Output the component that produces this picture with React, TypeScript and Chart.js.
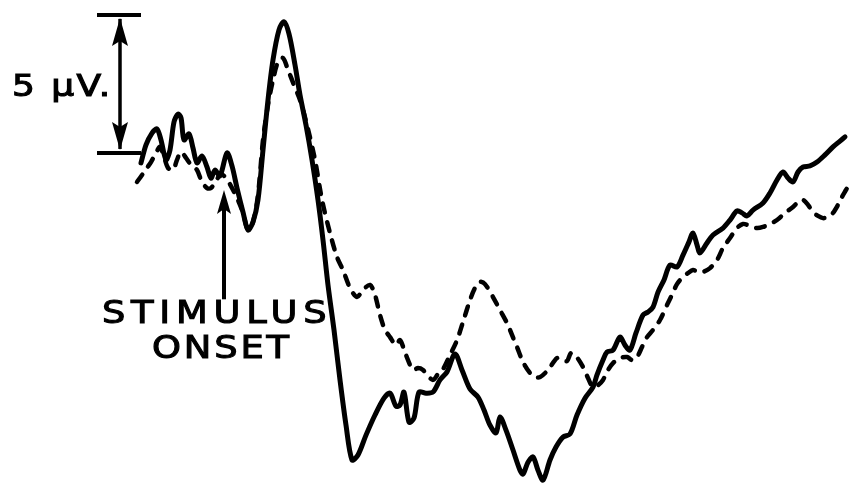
import React, { useEffect, useRef } from "react";
import { Chart, registerables } from "chart.js";

Chart.register(...registerables);

// Time relative to stimulus onset (ms) and amplitude (µV)
const solidTime = [
  -83, -78, -72, -67, -63, -58, -54, -50, -46, -43, -40, -35, -31, -27, -22, -17, -13, -9, -4, 3,
  8, 13, 19, 24, 29, 34, 39, 44, 49, 55, 60, 65, 71, 76, 82, 88, 94, 99, 104, 110,
  116, 122, 128, 134, 142, 151, 160, 166, 172, 176, 180, 185, 190, 195, 202, 209, 216, 223, 231, 238,
  246, 254, 260, 266, 272, 276, 282, 289, 296, 299, 304, 309, 314, 319, 326, 332, 339, 346, 353, 361,
  369, 373, 379, 383, 389, 396, 401, 406, 412, 419, 424, 429, 434, 440, 446, 453, 459, 465, 469, 473,
  476, 483, 489, 499, 506, 513, 518, 523, 529, 539, 546, 553, 559, 564, 569, 574, 579, 586, 593, 601,
  609, 616, 621,
];
const solidUV = [
  -0.36, 0.29, 0.72, 0.87, 0.47, -0.25, 0.11, 1.12, 1.41, 1.27, 0.47, 0.69, 0.18, -0.36, -0.11, -0.51, -0.91, -0.62, -0.83, 0,
  -0.47, -1.27, -2.14, -2.79, -2.5, -1.7, 0.11, 1.92, 3.37, 4.46, 4.75, 4.31, 3.19, 2.1, 1.01, -0.25, -1.7, -3.15, -4.78, -6.41,
  -8.22, -9.86, -11.12, -10.94, -10.22, -9.49, -8.88, -8.7, -9.17, -9.13, -8.66, -9.75, -9.6, -8.66, -8.7, -8.66, -8.22, -7.93, -7.28, -7.86,
  -8.55, -8.84, -9.31, -9.86, -10.14, -9.56, -10.04, -10.76, -11.49, -11.63, -11.2, -11.01, -11.49, -11.85, -11.12, -10.65, -10.29, -10.18, -9.49, -8.88,
  -8.48, -8.04, -7.5, -7.21, -7.14, -6.67, -6.96, -7.14, -6.52, -5.87, -5.76, -5.58, -5.04, -4.6, -4.06, -4.13, -3.7, -3.22, -2.9, -3.33,
  -3.62, -3.26, -2.97, -2.72, -2.43, -2.1, -2.17, -2.28, -2.07, -1.81, -1.45, -0.98, -0.69, -0.91, -1.05, -0.69, -0.51, -0.47, -0.33, -0.07,
  0.22, 0.43, 0.58,
];

const dashedTime = [
  -87, -82, -77, -73, -68, -64, -60, -56, -51, -47, -43, -38, -33, -27, -22, -17, -13, -8, -3, 2,
  7, 13, 19, 24, 29, 34, 39, 44, 49, 54, 59, 64, 70, 76, 83, 91, 98, 106, 113, 119,
  126, 133, 139, 146, 151, 156, 161, 166, 172, 176, 182, 189, 194, 199, 204, 209, 214, 219, 226, 233,
  239, 246, 251, 256, 261, 269, 276, 283, 288, 293, 299, 306, 311, 316, 324, 333, 338, 343, 347, 352,
  359, 364, 369, 374, 379, 384, 389, 396, 403, 408, 413, 418, 423, 429, 436, 443, 448, 453, 459, 464,
  469, 474, 479, 486, 493, 499, 506, 513, 519, 526, 533, 539, 546, 553, 561, 569, 574, 579, 584, 589,
  594, 599, 604, 609, 614, 618, 622, 626,
];
const dashedUV = [
  -1.05, -0.8, -0.54, -0.33, 0, 0.22, -0.14, -0.54, -0.62, -0.25, 0.04, -0.18, -0.43, -0.62, -1.05, -1.27, -1.27, -1.01, -0.76, -0.91,
  -1.2, -1.63, -2.17, -2.79, -2.5, -1.52, 0.47, 1.74, 2.64, 3.3, 3.44, 3.01, 2.46, 1.92, 1.01, -0.25, -1.7, -2.9, -3.77, -4.24,
  -4.89, -5.22, -4.96, -4.78, -5.14, -5.87, -6.41, -6.67, -6.96, -6.78, -7.32, -7.86, -7.79, -7.86, -8.08, -8.22, -8.01, -7.83, -7.32, -6.78,
  -6.12, -5.33, -4.89, -4.67, -4.75, -5.22, -5.69, -6.16, -6.59, -7.03, -7.57, -7.97, -8.12, -8.12, -7.86, -7.43, -7.46, -7.54, -7.25, -7.36,
  -7.75, -8.15, -8.48, -8.41, -8.22, -7.86, -7.61, -7.43, -7.39, -7.5, -7.39, -7.03, -6.67, -6.41, -6.05, -5.51, -5.14, -4.75, -4.49, -4.35,
  -4.24, -4.31, -4.31, -4.17, -3.88, -3.44, -3.08, -2.72, -2.57, -2.64, -2.72, -2.68, -2.57, -2.43, -2.17, -1.96, -1.78, -1.7, -1.88, -2.14,
  -2.28, -2.36, -2.32, -2.17, -1.88, -1.59, -1.34, -1.09,
];

// Calibration bar: 5 µV, and the stimulus-onset marker at t = 0
const calibrationUV = [0, 5];
const calibrationTime = -104;
const onsetTime = 0;
const onsetArrowUV = [-5.3, -1.34];

const X_MIN = -224;
const X_MAX = 627;
const Y_MIN = -11.99;
const Y_MAX = 5.54;

function toPoints(xs: number[], ys: number[]) {
  return xs.map((x, i) => ({ x, y: ys[i] }));
}

function arrowHead(ctx: CanvasRenderingContext2D, x: number, tipY: number, dir: number, len: number, half: number) {
  ctx.beginPath();
  ctx.moveTo(x, tipY);
  ctx.lineTo(x - half, tipY + dir * len);
  ctx.lineTo(x, tipY + dir * (len - 5));
  ctx.lineTo(x + half, tipY + dir * len);
  ctx.closePath();
  ctx.fill();
}

const markerPlugin = {
  id: "markers",
  afterDatasetsDraw(chart: any) {
    const ctx: CanvasRenderingContext2D = chart.ctx;
    const xs = chart.scales.x;
    const ys = chart.scales.y;
    ctx.save();
    ctx.strokeStyle = "#000";
    ctx.fillStyle = "#000";
    ctx.lineCap = "butt";

    // calibration bar
    const cx = xs.getPixelForValue(calibrationTime);
    const yBottom = ys.getPixelForValue(calibrationUV[0]);
    const yTop = ys.getPixelForValue(calibrationUV[1]);
    const capL = xs.getPixelForValue(calibrationTime - 23);
    const capR = xs.getPixelForValue(calibrationTime + 21);
    ctx.lineWidth = 4;
    ctx.beginPath();
    ctx.moveTo(capL, yTop);
    ctx.lineTo(capR, yTop);
    ctx.moveTo(capL, yBottom);
    ctx.lineTo(capR, yBottom);
    ctx.stroke();
    ctx.lineWidth = 3.5;
    ctx.beginPath();
    ctx.moveTo(cx, yTop + 4);
    ctx.lineTo(cx, yBottom - 4);
    ctx.stroke();
    arrowHead(ctx, cx, yTop + 3, 1, 28, 8);
    arrowHead(ctx, cx, yBottom - 3, -1, 28, 8);

    // stimulus onset arrow
    const ox = xs.getPixelForValue(onsetTime);
    const oBottom = ys.getPixelForValue(onsetArrowUV[0]);
    const oTip = ys.getPixelForValue(onsetArrowUV[1]);
    ctx.lineWidth = 4;
    ctx.beginPath();
    ctx.moveTo(ox, oBottom);
    ctx.lineTo(ox, oTip + 8);
    ctx.stroke();
    arrowHead(ctx, ox, oTip, 1, 24, 7);
    ctx.restore();
  },
};

const textBase: React.CSSProperties = {
  position: "absolute",
  fontFamily: "'DejaVu Sans', sans-serif",
  fontWeight: "normal",
  color: "#000",
  whiteSpace: "nowrap",
  margin: 0,
  WebkitTextStroke: "1.1px #000",
  transformOrigin: "left top",
};

export default function App() {
  const canvasRef = useRef<HTMLCanvasElement | null>(null);

  useEffect(() => {
    if (!canvasRef.current) return;
    const chart = new Chart(canvasRef.current, {
      type: "line",
      data: {
        datasets: [
          {
            label: "solid",
            data: toPoints(solidTime, solidUV),
            borderColor: "#000",
            borderWidth: 5,
            pointRadius: 0,
            tension: 0.3,
            borderCapStyle: "round",
            borderJoinStyle: "round",
            fill: false,
          },
          {
            label: "dashed",
            data: toPoints(dashedTime, dashedUV),
            borderColor: "#000",
            borderWidth: 4.5,
            borderDash: [9, 10],
            pointRadius: 0,
            tension: 0.3,
            borderCapStyle: "round",
            borderJoinStyle: "round",
            fill: false,
          },
        ],
      },
      options: {
        animation: false,
        responsive: false,
        layout: { padding: 0 },
        plugins: { legend: { display: false }, tooltip: { enabled: false }, title: { display: false } },
        scales: {
          x: { type: "linear", min: X_MIN, max: X_MAX, display: false },
          y: { type: "linear", min: Y_MIN, max: Y_MAX, display: false },
        },
        clip: false as any,
      },
      plugins: [markerPlugin],
    });
    return () => chart.destroy();
  }, []);

  return (
    <div style={{ position: "absolute", left: 0, top: 0, width: 851, height: 484, background: "#fff", overflow: "hidden" }}>
      <canvas ref={canvasRef} width={851} height={484} style={{ position: "absolute", left: 0, top: 0 }} />
      <div style={{ ...textBase, left: 12, top: 71, fontSize: 30, lineHeight: "30px", letterSpacing: 2, transform: "scaleX(1.2)" }}>5 µV.</div>
      <div style={{ ...textBase, left: 102, top: 296, fontSize: 32, lineHeight: "32px", letterSpacing: 5, transform: "scaleX(1.15)" }}>STIMULUS</div>
      <div style={{ ...textBase, left: 152, top: 331, fontSize: 32, lineHeight: "32px", letterSpacing: 2.5, transform: "scaleX(1.15)" }}>ONSET</div>
    </div>
  );
}
